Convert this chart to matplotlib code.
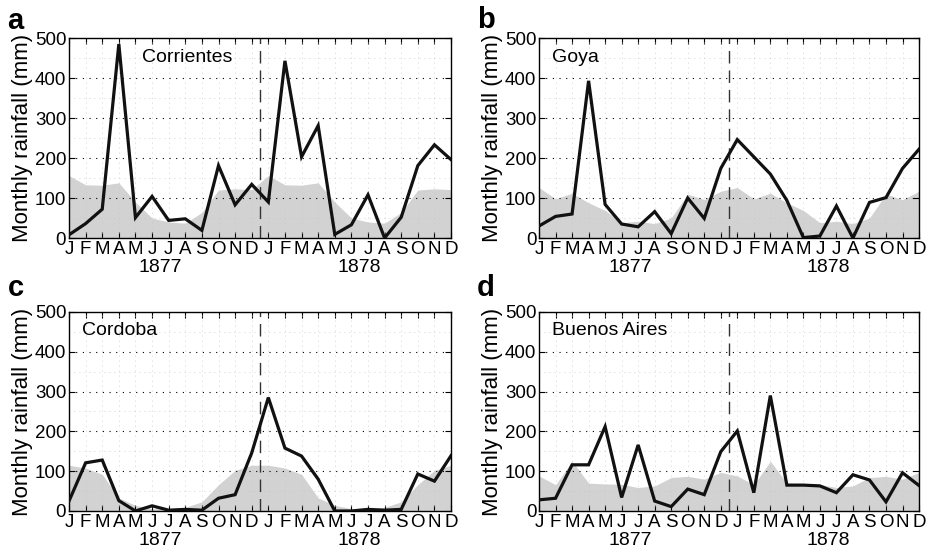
import numpy as np
import matplotlib
matplotlib.use("Agg")
import matplotlib.pyplot as plt
import matplotlib.transforms as mtransforms

plt.rcParams['font.family'] = ['Liberation Sans', 'DejaVu Sans']

months = ['J', 'F', 'M', 'A', 'M', 'J', 'J', 'A', 'S', 'O', 'N', 'D'] * 2
years = ['1877', '1878']
stations = ['Corrientes', 'Goya', 'Cordoba', 'Buenos Aires']
panel_letters = ['a', 'b', 'c', 'd']

# observed monthly rainfall (mm), Jan 1877 - Dec 1878
corrientes = [8, 36, 72, 485, 51, 104, 44, 48, 19, 181, 83, 134,
              90, 443, 203, 281, 9, 33, 108, 0, 52, 181, 233, 196]
goya = [30, 54, 60, 393, 84, 35, 28, 66, 11, 100, 49, 174,
        246, 203, 160, 94, 1, 5, 80, 0, 89, 101, 174, 222]
cordoba = [25, 121, 128, 26, 0, 13, 2, 4, 2, 32, 41, 146,
           285, 158, 138, 80, 0, 0, 4, 2, 4, 93, 75, 139]
buenos_aires = [28, 32, 116, 116, 212, 34, 166, 25, 11, 55, 41, 149,
                201, 46, 290, 65, 65, 63, 46, 91, 78, 23, 96, 64]

# climatological monthly means (mm), Jan - Dec
clim_corrientes = [156, 133, 132, 138, 90, 50, 40, 37, 64, 120, 123, 121]
clim_goya = [126, 98, 112, 88, 69, 38, 42, 36, 50, 110, 96, 117]
clim_cordoba = [115, 108, 92, 33, 14, 6, 5, 9, 23, 66, 102, 115]
clim_buenos_aires = [88, 66, 125, 70, 68, 67, 59, 63, 84, 87, 80, 97]

rain = [corrientes, goya, cordoba, buenos_aires]
clims = [clim_corrientes, clim_goya, clim_cordoba, clim_buenos_aires]

positions = [[0.0742, 0.5727, 0.4108, 0.3590],
             [0.5796, 0.5727, 0.4086, 0.3590],
             [0.0742, 0.0826, 0.4108, 0.3573],
             [0.5796, 0.0826, 0.4086, 0.3573]]
label_x = [0.19, 0.035, 0.035, 0.035]
letter_pos = [(0.008, 0.948), (0.513, 0.950), (0.008, 0.468), (0.513, 0.468)]

fig = plt.figure(figsize=(9.3, 5.57), dpi=100)

for k in range(4):
    ax = fig.add_axes(positions[k])
    x = np.arange(24)
    clim = np.tile(clims[k], 2)
    ax.fill_between(x, 0, clim, color='#d2d2d2', lw=0, zorder=1)

    # faint minor grid
    for i in x:
        ax.axvline(i, color='#c4c4c4', ls=(0, (1, 5)), lw=0.6, zorder=2)
    for yv in range(50, 500, 100):
        ax.axhline(yv, color='#c4c4c4', ls=(0, (1, 5)), lw=0.6, zorder=2)
    # major grid
    for yv in range(100, 500, 100):
        ax.axhline(yv, color='black', ls=(0, (1, 5)), lw=0.8, zorder=2)

    ax.axvline(11.5, color='#333333', ls=(0, (9, 5)), lw=1.0, zorder=2)
    ax.plot(x, rain[k], color='#111111', lw=2.3, zorder=4, solid_joinstyle='miter')

    ax.set_xlim(0, 23)
    ax.set_ylim(0, 500)
    ax.set_xticks(x)
    ax.set_xticklabels(months)
    ax.set_yticks(range(0, 501, 100))
    ax.tick_params(direction='in', top=True, right=True, length=4, width=0.8,
                   labelsize=13.5, pad=2)
    for sp in ax.spines.values():
        sp.set_linewidth(1.0)
    ax.set_ylabel('Monthly rainfall (mm)', fontsize=16, labelpad=1)

    trans = mtransforms.blended_transform_factory(ax.transData, ax.transAxes)
    ax.text(5.5, -0.148, years[0], transform=trans, ha='center', va='center', fontsize=14)
    ax.text(17.5, -0.148, years[1], transform=trans, ha='center', va='center', fontsize=14)

    ax.text(label_x[k], 0.905, stations[k], transform=ax.transAxes,
            ha='left', va='center', fontsize=14, zorder=5)
    fig.text(letter_pos[k][0], letter_pos[k][1], panel_letters[k], fontsize=21,
             fontweight='bold', ha='left', va='baseline')

fig.savefig('out.png', dpi=100)
